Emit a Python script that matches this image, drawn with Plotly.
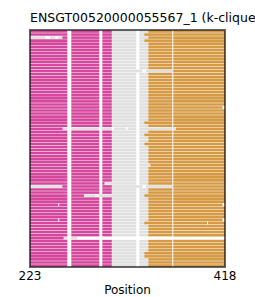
import plotly.graph_objects as go

# ---------------- data ----------------
N_ROWS = 78
X_MIN, X_MAX = 223, 418
TICK_VALUES = [223, 418]
TICK_LABELS = ["223", "418"]
TITLE = "ENSGT00520000055567_1 (k-cliques)"
X_LABEL = "Position"

MODULE_COLORS = {"mod1": "#D5479D", "none": "#E0E0E0", "mod2": "#D59A43"}

# default segment boundaries (sequence positions)
DEFAULT_MOD1_START = 223.0
DEFAULT_MOD1_END = 304.8
DEFAULT_MOD2_START = 341.3
DEFAULT_MOD2_END = 418.0

DEFAULT_GAPS = [(260.3, 264.3), (292.3, 295.3), (329.3, 332.3), (365.3, 366.3)]

MOD1_START_OVERRIDES = {2: 255.3, 51: 255.3}
MOD1_END_OVERRIDES = {32: 255.5, 50: 297.5, 54: 277.0, 68: 256.6}
MOD2_START_OVERRIDES = {1: 337.3, 3: 337.3, 13: 366.3, 30: 337.3, 32: 369.0,
                        34: 337.3, 37: 337.3, 44: 343.3, 51: 366.3, 54: 337.3,
                        63: 337.3, 73: 337.3, 74: 337.3}
MOD2_END_OVERRIDES = {25: 415.5, 57: 415.5, 62: 415.5}
ROWS_WITHOUT_MOD2 = {68: 270.3}  # row -> end of unassigned part

GAP_OVERRIDES = {
    13: [(260.3, 264.3), (292.3, 295.3), (335.6, 339.0)],
    51: [(260.3, 264.3), (292.3, 295.3), (335.6, 339.0)],
    54: [(260.3, 264.3), (288.4, 291.7), (329.3, 332.3), (365.3, 366.3)],
}
EXTRA_GAPS = {
    2: [(238.3, 243.3), (248.3, 251.0)],
    32: [(305.0, 307.0), (319.0, 320.6)],
    57: [(251.2, 252.2)],
    62: [(251.2, 252.2)],
    63: [(400.0, 401.0)],
}


# ---------------- build segments ----------------
def subtract(intervals, gaps):
    out = []
    for s, e, c in intervals:
        pieces = [(s, e)]
        for gs, ge in gaps:
            nxt = []
            for ps, pe in pieces:
                if ge <= ps or gs >= pe:
                    nxt.append((ps, pe))
                else:
                    if gs > ps:
                        nxt.append((ps, gs))
                    if ge < pe:
                        nxt.append((ge, pe))
            pieces = nxt
        out += [(ps, pe, c) for ps, pe in pieces]
    return out


segs = {k: {"y": [], "base": [], "x": []} for k in MODULE_COLORS}
for r in range(N_ROWS):
    m1s = MOD1_START_OVERRIDES.get(r, DEFAULT_MOD1_START)
    m1e = MOD1_END_OVERRIDES.get(r, DEFAULT_MOD1_END)
    iv = []
    if m1s > X_MIN:
        iv.append((X_MIN, m1s, "none"))
    iv.append((m1s, m1e, "mod1"))
    if r in ROWS_WITHOUT_MOD2:
        iv.append((m1e, ROWS_WITHOUT_MOD2[r], "none"))
    else:
        m2s = MOD2_START_OVERRIDES.get(r, DEFAULT_MOD2_START)
        m2e = MOD2_END_OVERRIDES.get(r, DEFAULT_MOD2_END)
        iv.append((m1e, m2s, "none"))
        iv.append((m2s, m2e, "mod2"))
    gaps = GAP_OVERRIDES.get(r, DEFAULT_GAPS) + EXTRA_GAPS.get(r, [])
    for s, e, c in subtract(iv, gaps):
        segs[c]["y"].append(r)
        segs[c]["base"].append(s)
        segs[c]["x"].append(e - s)

fig = go.Figure()
for key in ["none", "mod1", "mod2"]:
    d = segs[key]
    fig.add_trace(go.Bar(
        orientation="h", y=d["y"], x=d["x"], base=d["base"],
        width=0.86, marker=dict(color=MODULE_COLORS[key], line=dict(width=0)),
        hoverinfo="skip", showlegend=False,
    ))

FONT = "DejaVu Sans"
fig.update_layout(
    width=255, height=297,
    margin=dict(l=30, r=30, t=30, b=30, autoexpand=False),
    paper_bgcolor="white", plot_bgcolor="white",
    barmode="overlay",
    font=dict(family=FONT, size=12, color="black"),
    title=dict(text=TITLE, x=30 / 255, xanchor="left", xref="container",
               y=1 - 18 / 297, yanchor="middle", yref="container",
               font=dict(family=FONT, size=12.5, color="black")),
    xaxis=dict(range=[X_MIN, X_MAX], tickvals=TICK_VALUES, ticktext=TICK_LABELS,
               ticks="", showgrid=False, zeroline=False, showline=False,
               tickfont=dict(family=FONT, size=12, color="black"),
               title=dict(text=X_LABEL, standoff=4,
                          font=dict(family=FONT, size=12, color="black")),
               automargin=False),
    yaxis=dict(range=[N_ROWS - 0.5, -0.5], visible=False, showgrid=False,
               zeroline=False),
    shapes=[dict(type="rect", xref="paper", yref="paper", x0=0, x1=1, y0=0, y1=1,
                 line=dict(color="rgba(0,0,0,0.6)", width=2), layer="above")],
)

fig.write_html("out.html")
